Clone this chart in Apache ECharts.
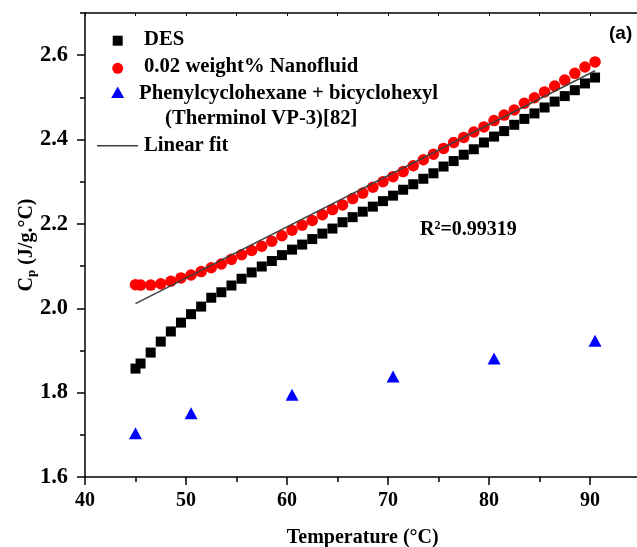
<!DOCTYPE html>
<html>
<head>
<meta charset="utf-8">
<script src="https://cdn.jsdelivr.net/npm/echarts@6/dist/echarts.min.js"></script>
<style>
html, body { margin: 0; padding: 0; background: #fff; }
#chart { width: 637px; height: 547px; }
</style>
</head>
<body>
<div id="chart"></div>
<script>
// temperatures (°C) shared by DES and nanofluid measurements
var temps = [45, 45.5, 46.5, 47.5, 48.5, 49.5, 50.5, 51.5, 52.5, 53.5, 54.5, 55.5, 56.5, 57.5, 58.5, 59.5,
  60.5, 61.5, 62.5, 63.5, 64.5, 65.5, 66.5, 67.5, 68.5, 69.5, 70.5, 71.5, 72.5, 73.5, 74.5, 75.5,
  76.5, 77.5, 78.5, 79.5, 80.5, 81.5, 82.5, 83.5, 84.5, 85.5, 86.5, 87.5, 88.5, 89.5, 90.5];
var desCp = [1.857, 1.869, 1.895, 1.921, 1.945, 1.966, 1.986, 2.004, 2.025, 2.038, 2.054, 2.070, 2.085, 2.099, 2.112, 2.126,
  2.139, 2.151, 2.164, 2.177, 2.189, 2.204, 2.216, 2.229, 2.241, 2.254, 2.267, 2.281, 2.294, 2.307, 2.320, 2.336,
  2.349, 2.364, 2.377, 2.393, 2.407, 2.420, 2.435, 2.449, 2.462, 2.476, 2.490, 2.503, 2.517, 2.533, 2.547];
var nanoCp = [2.056, 2.055, 2.055, 2.058, 2.064, 2.072, 2.079, 2.087, 2.096, 2.105, 2.116, 2.127, 2.137, 2.147, 2.159, 2.172,
  2.185, 2.197, 2.208, 2.222, 2.234, 2.245, 2.260, 2.273, 2.287, 2.300, 2.312, 2.324, 2.338, 2.352, 2.365, 2.379,
  2.393, 2.405, 2.418, 2.430, 2.445, 2.458, 2.470, 2.486, 2.499, 2.513, 2.527, 2.541, 2.557, 2.572, 2.584];
// Therminol VP-3 literature values [82]
var vp3Temps = [45, 50.5, 60.5, 70.5, 80.5, 90.5];
var vp3Cp = [1.704, 1.751, 1.795, 1.838, 1.881, 1.923];
// linear fit end points
var fitTemps = [45, 90.5];
var fitCp = [2.011, 2.563];
var yTicks = [1.6, 1.8, 2.0, 2.2, 2.4, 2.6];

var seriesNames = ['DES', '0.02 weight% Nanofluid', 'Phenylcyclohexane + bicyclohexyl', '(Therminol VP-3)[82]', 'Linear fit'];

function pairs(xs, ys) {
  return xs.map(function (x, i) { return [x, ys[i]]; });
}

var serif = 'Liberation Serif';
var black = '#000';
var legendFont = 'bold 20.7px "Liberation Serif"';

var chart = echarts.init(document.getElementById('chart'), null, { renderer: 'canvas' });

var option = {
  animation: false,
  backgroundColor: '#fff',
  grid: {
    left: 85,
    top: 13,
    width: 555.5,
    height: 464,
    containLabel: false,
    outerBoundsMode: 'none'
  },
  xAxis: [
    {
      type: 'value', min: 40, max: 95, interval: 10, position: 'bottom',
      axisLine: { show: true, onZero: false, lineStyle: { color: black, width: 1.5 } },
      axisTick: { show: true, length: 8, lineStyle: { color: black, width: 1.5 } },
      axisLabel: { margin: 14, showMaxLabel: false, color: black, fontFamily: serif, fontWeight: 'bold', fontSize: 20 },
      splitLine: { show: false },
      name: 'Temperature (°C)',
      nameLocation: 'middle',
      nameGap: 51,
      nameMoveOverlap: false,
      nameTextStyle: { color: black, fontFamily: serif, fontWeight: 'bold', fontSize: 20 }
    },
    {
      // minor ticks
      type: 'value', min: 40, max: 95, interval: 5, position: 'bottom',
      axisLine: { show: false, onZero: false },
      axisTick: { show: true, length: 5, lineStyle: { color: black, width: 1.5 } },
      axisLabel: { show: false },
      splitLine: { show: false }
    },
    {
      // top frame
      type: 'value', min: 40, max: 95, interval: 5, position: 'top',
      axisLine: { show: true, onZero: false, lineStyle: { color: black, width: 1.5 } },
      axisTick: { show: true, inside: true, length: 3, lineStyle: { color: black, width: 1 } },
      axisLabel: { show: false },
      splitLine: { show: false }
    }
  ],
  yAxis: [
    {
      type: 'value', min: 1.6, max: 2.7, interval: 0.2, position: 'left',
      axisLine: { show: true, onZero: false, lineStyle: { color: black, width: 1.5 } },
      axisTick: { show: true, length: 8, customValues: yTicks, lineStyle: { color: black, width: 1.5 } },
      axisLabel: {
        customValues: yTicks, margin: 17, color: black, fontFamily: serif, fontWeight: 'bold', fontSize: 22.5,
        formatter: function (v) { return v.toFixed(1); }
      },
      splitLine: { show: false },
      name: '{c|C}{s|p}{c| (J/g.°C)}',
      nameLocation: 'middle',
      nameGap: 47,
      nameMoveOverlap: false,
      nameTextStyle: {
        rich: {
          c: { color: black, fontFamily: serif, fontWeight: 'bold', fontSize: 20 },
          s: { color: black, fontFamily: serif, fontWeight: 'bold', fontSize: 13, padding: [10, 0, 0, 0] }
        }
      }
    },
    {
      // minor ticks
      type: 'value', min: 1.6, max: 2.7, interval: 0.1, position: 'left',
      axisLine: { show: false, onZero: false },
      axisTick: { show: true, length: 5, lineStyle: { color: black, width: 1.5 } },
      axisLabel: { show: false },
      splitLine: { show: false }
    }
  ],
  series: [
    {
      type: 'scatter', name: seriesNames[0], data: pairs(temps, desCp),
      symbol: 'rect', symbolSize: 10, itemStyle: { color: '#000', opacity: 1 }
    },
    {
      type: 'scatter', name: seriesNames[1], data: pairs(temps, nanoCp),
      symbol: 'circle', symbolSize: 11.5, itemStyle: { color: '#ff0000', opacity: 1 }
    },
    {
      type: 'scatter', name: seriesNames[2], data: pairs(vp3Temps, vp3Cp),
      symbol: 'triangle', symbolSize: [13, 12], itemStyle: { color: '#0000ff', opacity: 1 }
    },
    {
      type: 'line', name: seriesNames[4], data: pairs(fitTemps, fitCp), z: 5,
      symbol: 'none', lineStyle: { color: '#404040', width: 1.5 }
    }
  ],
  graphic: [
    // legend (drawn by hand to keep the original layout)
    { type: 'rect', shape: { x: 112.7, y: 35.7, width: 10, height: 10 }, style: { fill: '#000' } },
    { type: 'text', x: 144, y: 40, style: { text: seriesNames[0], fill: black, font: legendFont, verticalAlign: 'middle' } },
    { type: 'circle', shape: { cx: 117.7, cy: 68.3, r: 5.5 }, style: { fill: '#ff0000' } },
    { type: 'text', x: 144, y: 67, style: { text: seriesNames[1], fill: black, font: legendFont, verticalAlign: 'middle' } },
    { type: 'polygon', shape: { points: [[117.7, 86.5], [124.2, 98], [111.2, 98]] }, style: { fill: '#0000ff' } },
    { type: 'text', x: 139, y: 94, style: { text: seriesNames[2], fill: black, font: legendFont, verticalAlign: 'middle' } },
    { type: 'text', x: 165, y: 119, style: { text: seriesNames[3], fill: black, font: legendFont, verticalAlign: 'middle' } },
    { type: 'line', shape: { x1: 97, y1: 145.7, x2: 138, y2: 145.7 }, style: { stroke: '#404040', lineWidth: 1.5 } },
    { type: 'text', x: 144, y: 146, style: { text: seriesNames[4], fill: black, font: legendFont, verticalAlign: 'middle' } },
    {
      type: 'text', x: 420, y: 230,
      style: {
        text: '{a|R}{s|2}{a|=0.99319}', verticalAlign: 'middle',
        rich: {
          a: { fill: black, fontFamily: serif, fontWeight: 'bold', fontSize: 20 },
          s: { fill: black, fontFamily: serif, fontWeight: 'bold', fontSize: 12, verticalAlign: 'top' }
        }
      }
    },
    { type: 'text', x: 609, y: 34, style: { text: '(a)', fill: black, font: 'bold 19px "Liberation Sans"', verticalAlign: 'middle' } }
  ]
};

chart.setOption(option);
window.onresize = function () {
  chart.resize();
};
</script>
</body>
</html>
